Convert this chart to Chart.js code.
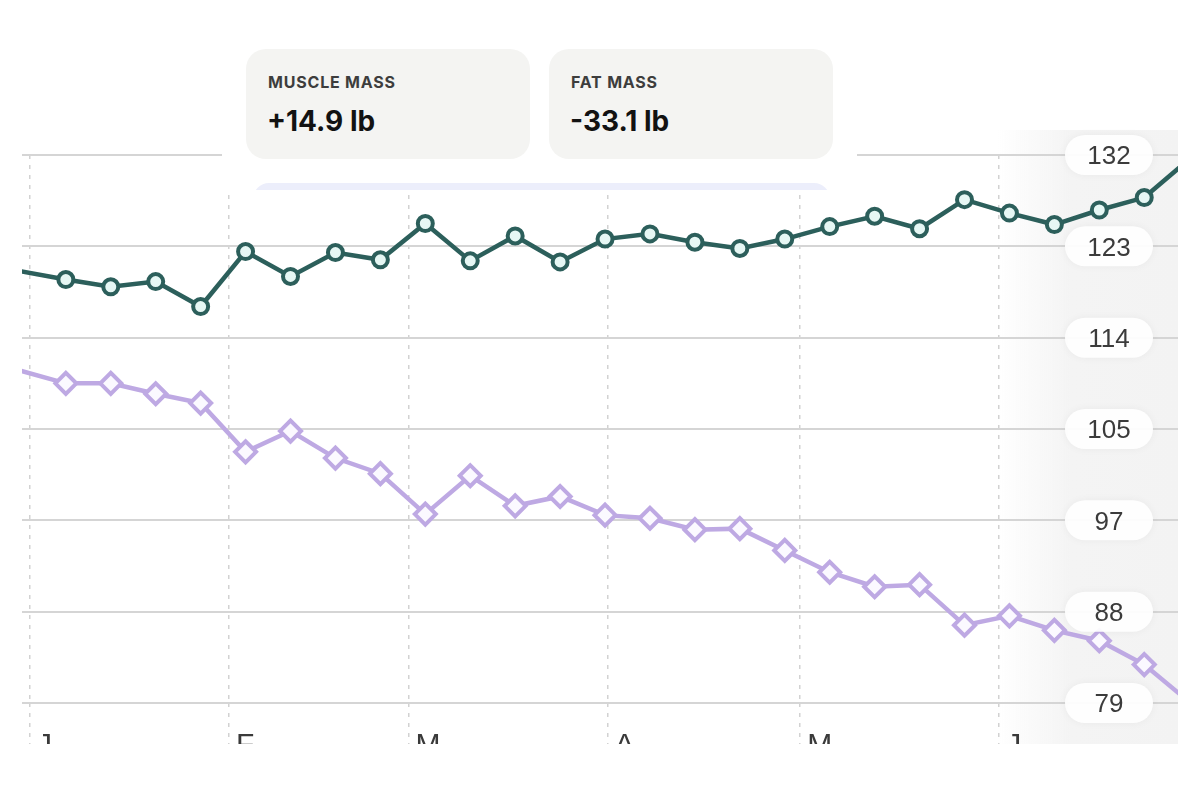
<!DOCTYPE html>
<html>
<head>
<meta charset="utf-8">
<script src="https://cdn.jsdelivr.net/npm/chart.js@4.4.1/dist/chart.umd.min.js"></script>
<style>
  html, body { margin: 0; background: #fff; }
  #wrap { position: relative; width: 1200px; height: 744px; overflow: hidden; }
  #chart { position: absolute; left: 0; top: 0; }
  .mask { position: absolute; left: 222px; top: 0; width: 635px; height: 190px; background: #fff; overflow: hidden; }
  .card { position: absolute; top: 49px; width: 284px; height: 110px; border-radius: 20px; background: #f4f4f2; }
  .card .title { position: absolute; left: 22px; top: 25px; font: 700 16px/16px Inter, "Liberation Sans", sans-serif; letter-spacing: 0.05em; color: #3d3d3d; }
  .card .value { position: absolute; left: 21px; top: 58px; font: 700 28px/28px Inter, "Liberation Sans", sans-serif; color: #121212; }
  .strip { position: absolute; left: 31px; top: 183px; width: 577px; height: 30px; border-radius: 16px 16px 0 0; background: #eceefb; }
</style>
</head>
<body>
<div id="wrap">
  <canvas id="chart" width="1200" height="800"></canvas>
  <div class="mask">
    <div class="card" style="left:24px"><div class="title">MUSCLE MASS</div><div class="value">+14.9 lb</div></div>
    <div class="card" style="left:327px"><div class="title">FAT MASS</div><div class="value">-33.1 lb</div></div>
    <div class="strip"></div>
  </div>
</div>
<script>
// weekly weigh-ins, in days since Jan 1
const weekDays = [-1.4, 5.6, 12.6, 19.6, 26.6, 33.6, 40.6, 47.6, 54.6, 61.6, 68.6, 75.6, 82.6, 89.6,
  96.6, 103.6, 110.6, 117.6, 124.6, 131.6, 138.6, 145.6, 152.6, 159.6, 166.6, 173.6, 180.6];

const muscleMass = [120.6, 119.8, 119.1, 119.6, 117.2, 122.5, 120.1, 122.4, 121.7, 125.2, 121.6, 124.0, 121.5, 123.7,
  124.2, 123.4, 122.8, 123.7, 124.9, 125.9, 124.7, 127.5, 126.2, 125.1, 126.5, 127.7, 131.4];

const fatMass = [111.0, 109.8, 109.8, 108.8, 107.9, 103.2, 105.2, 102.6, 101.1, 97.2, 100.9, 98.0, 98.9, 97.1,
  96.8, 95.7, 95.8, 93.7, 91.6, 90.2, 90.4, 86.5, 87.4, 86.0, 85.0, 82.7, 79.1];

// month starts (days since Jan 1) and their labels
const monthDays = [0, 31, 59, 90, 120, 151];
const monthLabels = ['J', 'F', 'M', 'A', 'M', 'J'];

const yTicks = [79, 87.8, 96.6, 105.4, 114.2, 123, 131.8];
const yTickLabels = ['79', '88', '97', '105', '114', '123', '132'];

// visible window of the x axis (days)
const xMin = -1.23;
const xMax = 178.86;

const toPoints = values => values.map((v, i) => ({ x: weekDays[i], y: v }));
const inView = ctx => ctx.raw && ctx.raw.x >= xMin && ctx.raw.x <= xMax;

const sidePanel = {
  id: 'sidePanel',
  beforeDraw(chart) {
    const { ctx, chartArea } = chart;
    const x0 = chartArea.right - 180;
    const g = ctx.createLinearGradient(x0, 0, chartArea.right, 0);
    g.addColorStop(0, 'rgba(244,244,244,0)');
    g.addColorStop(0.4, 'rgba(244,244,244,1)');
    g.addColorStop(1, 'rgba(243,243,243,1)');
    ctx.save();
    ctx.fillStyle = g;
    ctx.fillRect(x0, 130, chartArea.right - x0, 800 - 130);
    ctx.restore();
  }
};

const tickPills = {
  id: 'tickPills',
  afterDatasetsDraw(chart) {
    const { ctx, chartArea, scales } = chart;
    const cx = chartArea.right - 69;
    const w = 88, h = 40;
    ctx.save();
    yTicks.forEach((v, i) => {
      const y = scales.y.getPixelForValue(v);
      ctx.save();
      ctx.shadowColor = 'rgba(0,0,0,0.05)';
      ctx.shadowBlur = 8;
      ctx.fillStyle = 'rgba(255,255,255,0.93)';
      ctx.beginPath();
      ctx.roundRect(cx - w / 2, y - h / 2, w, h, h / 2);
      ctx.fill();
      ctx.restore();
      ctx.fillStyle = '#3b3b3b';
      ctx.font = '26px "Liberation Sans", Arial, sans-serif';
      ctx.textAlign = 'center';
      ctx.textBaseline = 'middle';
      ctx.fillText(yTickLabels[i], cx, y + 2);
    });
    ctx.restore();
  }
};

new Chart(document.getElementById('chart'), {
  type: 'line',
  data: {
    datasets: [
      {
        label: 'Muscle mass',
        data: toPoints(muscleMass),
        borderColor: '#2c5f5b',
        borderWidth: 4.5,
        pointRadius: ctx => inView(ctx) ? 7.5 : 0,
        pointBorderWidth: 4,
        pointBorderColor: '#2c5f5b',
        pointBackgroundColor: '#e6f7f4',
        tension: 0
      },
      {
        label: 'Fat mass',
        data: toPoints(fatMass),
        borderColor: '#bea9e3',
        borderWidth: 4.5,
        pointStyle: 'rectRot',
        pointRadius: ctx => inView(ctx) ? 10.5 : 0,
        pointBorderWidth: 4,
        pointBorderColor: '#bea9e3',
        pointBackgroundColor: '#fbf9ff',
        tension: 0
      }
    ]
  },
  options: {
    responsive: false,
    animation: false,
    layout: { padding: { left: 22, right: 22, top: 155, bottom: 0 } },
    plugins: { legend: { display: false }, tooltip: { enabled: false } },
    scales: {
      x: {
        type: 'linear',
        min: xMin,
        max: xMax,
        afterBuildTicks: scale => { scale.ticks = monthDays.map(d => ({ value: d })); },
        afterFit: scale => { scale.height = 97; },
        grid: {
          color: '#d2d2d2',
          lineWidth: 1.5,
          drawTicks: true,
          tickLength: 42,
          tickColor: '#d2d2d2',
          tickWidth: 1.5,
          tickBorderDash: [4, 6]
        },
        border: { display: false, dash: [4, 6] },
        ticks: {
          align: 'start',
          labelOffset: 7,
          padding: -17,
          maxRotation: 0,
          autoSkip: false,
          color: '#3a3a3a',
          font: { family: '"Liberation Sans", Arial, sans-serif', size: 30 },
          callback: (v, i) => monthLabels[i]
        }
      },
      y: {
        min: 79,
        max: 131.8,
        afterBuildTicks: scale => { scale.ticks = yTicks.map(v => ({ value: v })); },
        afterFit: scale => { scale.width = 0; },
        grid: { color: '#d5d5d5', lineWidth: 2, drawTicks: false },
        border: { display: false },
        ticks: { display: false }
      }
    }
  },
  plugins: [sidePanel, tickPills]
});
</script>
</body>
</html>
